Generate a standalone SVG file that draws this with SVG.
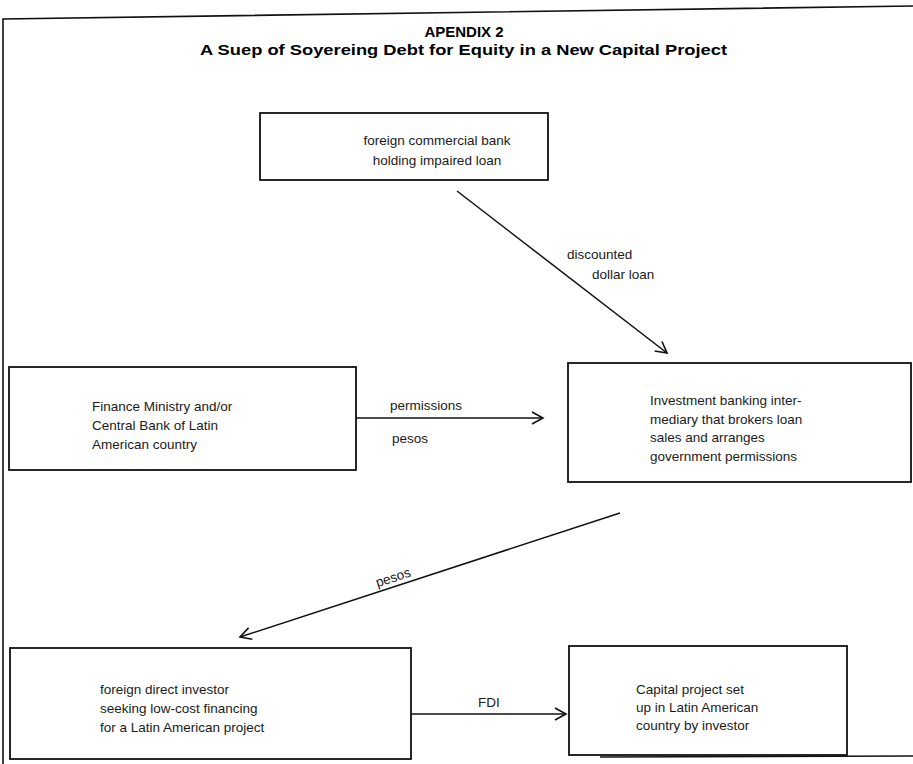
<svg xmlns="http://www.w3.org/2000/svg" width="913" height="764" viewBox="0 0 913 764">
  <style>
    .box { fill: none; stroke: #111; stroke-width: 1.8; }
    .frame { fill: none; stroke: #111; stroke-width: 1.6; }
    .txt { font-family: "Liberation Sans", Arial, sans-serif; font-size: 13.5px; fill: #1a1a1a; }
    .title { font-family: "Liberation Sans", Arial, sans-serif; font-weight: bold; font-size: 15px; fill: #000; }
    .edge { fill: none; stroke: #111; stroke-width: 1.5; }
  </style>
  <defs>
    <marker id="open" markerWidth="14" markerHeight="14" refX="12" refY="7" orient="auto" markerUnits="userSpaceOnUse">
      <path d="M1,1 L12,7 L1,13" fill="none" stroke="#111" stroke-width="1.6"/>
    </marker>
  </defs>
  <rect width="913" height="764" fill="#ffffff"/>

  <!-- page frame -->
  <g id="frame">
    <path class="frame" d="M3,764 L3,19 L913,6"/>
    <path class="frame" d="M600,757 L913,756"/>
  </g>

  <!-- heading -->
  <g id="heading">
    <text class="title" x="464" y="37" text-anchor="middle">APENDIX 2</text>
    <text class="title" x="200" y="55" textLength="527" lengthAdjust="spacingAndGlyphs">A Suep of Soyereing Debt for Equity in a New Capital Project</text>
  </g>

  <!-- connectors -->
  <g id="connectors">
    <line class="edge" x1="457" y1="191" x2="667" y2="353" marker-end="url(#open)"/>
    <text class="txt" x="567" y="259">discounted</text>
    <text class="txt" x="592" y="279">dollar loan</text>

    <line class="edge" x1="356" y1="418" x2="543" y2="418" marker-end="url(#open)"/>
    <text class="txt" x="390" y="410">permissions</text>
    <text class="txt" x="392" y="443">pesos</text>

    <line class="edge" x1="620" y1="513" x2="240" y2="637" marker-end="url(#open)"/>
    <text class="txt" x="393" y="582" text-anchor="middle" transform="rotate(-18 393 577)">pesos</text>

    <line class="edge" x1="411" y1="714" x2="566" y2="714" marker-end="url(#open)"/>
    <text class="txt" x="478" y="707">FDI</text>
  </g>

  <!-- nodes -->
  <g id="bank">
    <rect class="box" x="260" y="113" width="288" height="67"/>
    <text class="txt" x="437" y="145" text-anchor="middle">foreign commercial bank</text>
    <text class="txt" x="437" y="165" text-anchor="middle">holding impaired loan</text>
  </g>

  <g id="ministry">
    <rect class="box" x="9" y="367" width="347" height="103"/>
    <text class="txt" x="92" y="411">Finance Ministry and/or</text>
    <text class="txt" x="92" y="430">Central Bank of Latin</text>
    <text class="txt" x="92" y="449">American country</text>
  </g>

  <g id="intermediary">
    <rect class="box" x="568" y="363" width="343" height="119"/>
    <text class="txt" x="650" y="405">Investment banking inter-</text>
    <text class="txt" x="650" y="424">mediary that brokers loan</text>
    <text class="txt" x="650" y="442">sales and arranges</text>
    <text class="txt" x="650" y="461">government permissions</text>
  </g>

  <g id="investor">
    <rect class="box" x="10" y="648" width="401" height="111"/>
    <text class="txt" x="100" y="694">foreign direct investor</text>
    <text class="txt" x="100" y="713">seeking low-cost financing</text>
    <text class="txt" x="100" y="732">for a Latin American project</text>
  </g>

  <g id="project">
    <rect class="box" x="569" y="646" width="278" height="109"/>
    <text class="txt" x="636" y="694">Capital project set</text>
    <text class="txt" x="636" y="712">up in Latin American</text>
    <text class="txt" x="636" y="730">country by investor</text>
  </g>
</svg>
